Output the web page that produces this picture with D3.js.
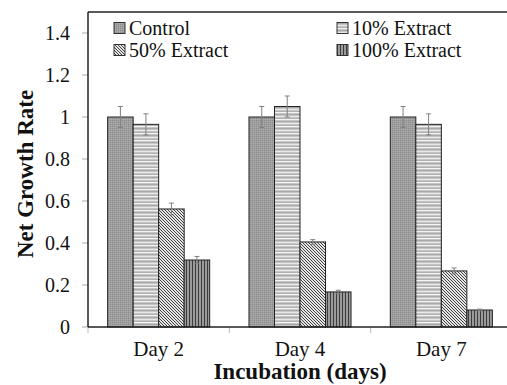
<!DOCTYPE html>
<html>
<head>
<style>
body { margin: 0; background: #fff; }
</style>
</head>
<body>
<svg id="chart" width="507" height="385" style="display:block"></svg>
<script src="https://d3js.org/d3.v7.min.js"></script>
<script>
const days = ["Day 2", "Day 4", "Day 7"];
const series = ["Control", "10% Extract", "50% Extract", "100% Extract"];
const control = [1.0, 1.0, 1.0];
const ext10 = [0.965, 1.05, 0.965];
const ext50 = [0.562, 0.405, 0.267];
const ext100 = [0.319, 0.167, 0.081];
const errControl = [0.05, 0.05, 0.05];
const err10 = [0.05, 0.05, 0.05];
const err50 = [0.028, 0.011, 0.014];
const err100 = [0.017, 0.008, 0.004];
const yTicks = [0, 0.2, 0.4, 0.6, 0.8, 1, 1.2, 1.4];

const values = [control, ext10, ext50, ext100];
const errors = [errControl, err10, err50, err100];
const FONT = "Liberation Serif";

const svg = d3.select("#chart");
const plotL = 88, plotR = 512, plotT = 12, plotB = 327;

const x = d3.scaleBand().domain(days).range([plotL, plotR]).paddingInner(0).paddingOuter(0);
const xs = d3.scaleBand().domain(series).range([0, x.bandwidth()]).paddingOuter(0.77).paddingInner(0);
const y = d3.scaleLinear().domain([0, 1.5]).range([plotB, plotT]);

// fill patterns
const defs = svg.append("defs");
let p = defs.append("pattern").attr("id", "pat0").attr("patternUnits", "userSpaceOnUse").attr("width", 2).attr("height", 2);
p.append("rect").attr("width", 2).attr("height", 2).attr("fill", "#a0a0a0");
p.append("rect").attr("width", 1).attr("height", 1).attr("fill", "#8a8a8a");
p.append("rect").attr("x", 1).attr("y", 1).attr("width", 1).attr("height", 1).attr("fill", "#ababab");

p = defs.append("pattern").attr("id", "pat1").attr("patternUnits", "userSpaceOnUse").attr("width", 4).attr("height", 7);
p.append("rect").attr("width", 4).attr("height", 7).attr("fill", "#c6c6c6");
p.append("rect").attr("y", 0).attr("width", 4).attr("height", 1).attr("fill", "#f4f4f4");
p.append("rect").attr("y", 2).attr("width", 4).attr("height", 1).attr("fill", "#a8a8a8");
p.append("rect").attr("y", 4).attr("width", 4).attr("height", 1).attr("fill", "#e8e8e8");
p.append("rect").attr("y", 6).attr("width", 4).attr("height", 1).attr("fill", "#b0b0b0");

p = defs.append("pattern").attr("id", "pat2").attr("patternUnits", "userSpaceOnUse").attr("width", 3).attr("height", 3);
p.append("rect").attr("width", 3).attr("height", 3).attr("fill", "#e4e4e4");
p.append("path").attr("d", "M-1,-1 L4,4 M-1,2 L1,4 M2,-1 L4,1").attr("stroke", "#444").attr("stroke-width", 1);

p = defs.append("pattern").attr("id", "pat3").attr("patternUnits", "userSpaceOnUse").attr("width", 3).attr("height", 4);
p.append("rect").attr("width", 3).attr("height", 4).attr("fill", "#9a9a9a");
p.append("rect").attr("x", 0).attr("width", 1).attr("height", 4).attr("fill", "#3c3c3c");

// y ticks and labels
const yAxis = svg.append("g");
yAxis.selectAll("line").data(yTicks).join("line")
  .attr("x1", plotL - 6).attr("x2", plotL)
  .attr("y1", d => y(d)).attr("y2", d => y(d))
  .attr("stroke", "#aaa").attr("stroke-width", 1);
yAxis.selectAll("text").data(yTicks).join("text")
  .attr("x", 70).attr("y", d => y(d)).attr("dy", "0.35em")
  .attr("text-anchor", "end").attr("font-family", FONT).attr("font-size", 20).attr("fill", "#111")
  .text(d => d3.format("~g")(d));

// x ticks at category boundaries
const bounds = days.map(d => x(d)).concat([plotR]);
svg.append("g").selectAll("line").data(bounds).join("line")
  .attr("x1", d => d).attr("x2", d => d)
  .attr("y1", plotB).attr("y2", plotB + 6)
  .attr("stroke", "#bbb").attr("stroke-width", 1);

// bars
const rows = [];
days.forEach((d, i) => series.forEach((s, j) => rows.push({day: d, s: s, j: j, v: values[j][i], e: errors[j][i]})));

svg.append("g").selectAll("rect").data(rows).join("rect")
  .attr("x", d => x(d.day) + xs(d.s))
  .attr("width", xs.bandwidth())
  .attr("y", d => y(d.v))
  .attr("height", d => y(0) - y(d.v))
  .attr("fill", d => "url(#pat" + d.j + ")")
  .attr("stroke", "#222").attr("stroke-width", 1);

// error bars
const eb = svg.append("g").attr("stroke", "#808080").attr("stroke-width", 1);
rows.forEach(d => {
  const cx = x(d.day) + xs(d.s) + xs.bandwidth() / 2;
  eb.append("line").attr("x1", cx).attr("x2", cx).attr("y1", y(d.v + d.e)).attr("y2", y(d.v - d.e));
  eb.append("line").attr("x1", cx - 2.5).attr("x2", cx + 2.5).attr("y1", y(d.v + d.e)).attr("y2", y(d.v + d.e));
  eb.append("line").attr("x1", cx - 2.5).attr("x2", cx + 2.5).attr("y1", y(d.v - d.e)).attr("y2", y(d.v - d.e));
});

// frame: left axis, bottom axis, top border
svg.append("line").attr("x1", plotL).attr("x2", plotL).attr("y1", plotT).attr("y2", plotB).attr("stroke", "#222").attr("stroke-width", 1.5);
svg.append("line").attr("x1", plotL).attr("x2", plotR).attr("y1", plotB).attr("y2", plotB).attr("stroke", "#222").attr("stroke-width", 1.5);
svg.append("line").attr("x1", plotL).attr("x2", plotR).attr("y1", plotT).attr("y2", plotT).attr("stroke", "#222").attr("stroke-width", 1.5);

// x labels
svg.append("g").selectAll("text").data(days).join("text")
  .attr("x", d => x(d) + x.bandwidth() / 2).attr("y", 356)
  .attr("text-anchor", "middle").attr("font-family", FONT).attr("font-size", 21).attr("fill", "#111")
  .text(d => d);

// axis titles
svg.append("text").attr("x", (plotL + plotR) / 2).attr("y", 379)
  .attr("text-anchor", "middle").attr("font-family", FONT).attr("font-size", 23).attr("font-weight", "bold").attr("fill", "#111")
  .text("Incubation (days)");
svg.append("text").attr("transform", "translate(33,174) rotate(-90)")
  .attr("text-anchor", "middle").attr("font-family", FONT).attr("font-size", 23).attr("font-weight", "bold").attr("fill", "#111")
  .text("Net Growth Rate");

// legend
const legPos = [[114, 28], [337, 28], [114, 50], [337, 50]];
const leg = svg.append("g").selectAll("g").data(series).join("g")
  .attr("transform", (d, i) => "translate(" + legPos[i][0] + "," + legPos[i][1] + ")");
leg.append("rect").attr("x", 0).attr("y", -5.5).attr("width", 11).attr("height", 11)
  .attr("fill", (d, i) => "url(#pat" + i + ")").attr("stroke", "#333").attr("stroke-width", 1);
leg.append("text").attr("x", 15).attr("y", 0).attr("dy", "0.35em")
  .attr("font-family", FONT).attr("font-size", 20).attr("fill", "#111").text(d => d);
</script>
</body>
</html>
